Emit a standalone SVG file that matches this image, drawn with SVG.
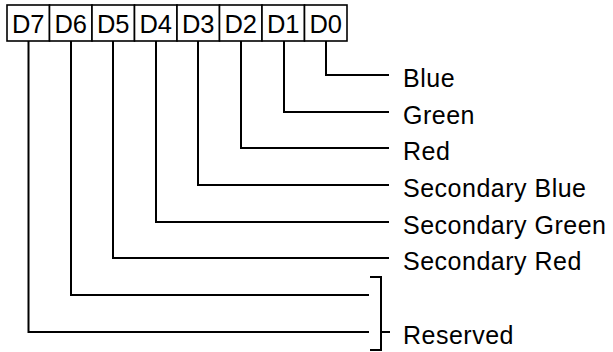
<svg xmlns="http://www.w3.org/2000/svg" width="613" height="352" viewBox="0 0 613 352">
<style>
.box{fill:#fff;stroke:#000;stroke-width:1.6}
.bl{font-family:"Liberation Sans",Arial,sans-serif;font-size:25.5px;text-anchor:middle;fill:#000}
.lbl{font-family:"Liberation Sans",Arial,sans-serif;font-size:25px;letter-spacing:0.5px;fill:#000}
.c{fill:none;stroke:#000;stroke-width:2}
</style>
<rect width="613" height="352" fill="#fff"/>
<g id="bits">
<g id="D7"><rect class="box" x="7" y="5" width="42.5" height="36"/><text class="bl" x="28.25" y="32.5">D7</text></g>
<g id="D6"><rect class="box" x="49.5" y="5" width="42.5" height="36"/><text class="bl" x="70.75" y="32.5">D6</text></g>
<g id="D5"><rect class="box" x="92" y="5" width="42.5" height="36"/><text class="bl" x="113.25" y="32.5">D5</text></g>
<g id="D4"><rect class="box" x="134.5" y="5" width="42.5" height="36"/><text class="bl" x="155.75" y="32.5">D4</text></g>
<g id="D3"><rect class="box" x="177" y="5" width="42.5" height="36"/><text class="bl" x="198.25" y="32.5">D3</text></g>
<g id="D2"><rect class="box" x="219.5" y="5" width="42.5" height="36"/><text class="bl" x="240.75" y="32.5">D2</text></g>
<g id="D1"><rect class="box" x="262" y="5" width="42.5" height="36"/><text class="bl" x="283.25" y="32.5">D1</text></g>
<g id="D0"><rect class="box" x="304.5" y="5" width="42.5" height="36"/><text class="bl" x="325.75" y="32.5">D0</text></g>
</g>
<g id="connectors">
<path class="c" d="M326 41V75H389"/>
<path class="c" d="M284 41V112H389"/>
<path class="c" d="M241 41V148H389"/>
<path class="c" d="M198 41V185H389"/>
<path class="c" d="M156 41V222H389"/>
<path class="c" d="M113 41V258H389"/>
<path class="c" d="M71 41V295H369"/>
<path class="c" d="M28.5 41V332H369"/>
<path class="c" d="M370 277H381V350H370M381 332H390"/>
</g>
<g id="labels">
<text class="lbl" x="403" y="87">Blue</text>
<text class="lbl" x="403" y="124">Green</text>
<text class="lbl" x="403" y="160">Red</text>
<text class="lbl" x="403" y="197">Secondary Blue</text>
<text class="lbl" x="403" y="234">Secondary Green</text>
<text class="lbl" x="403" y="270">Secondary Red</text>
<text class="lbl" x="403" y="344">Reserved</text>
</g>
</svg>
